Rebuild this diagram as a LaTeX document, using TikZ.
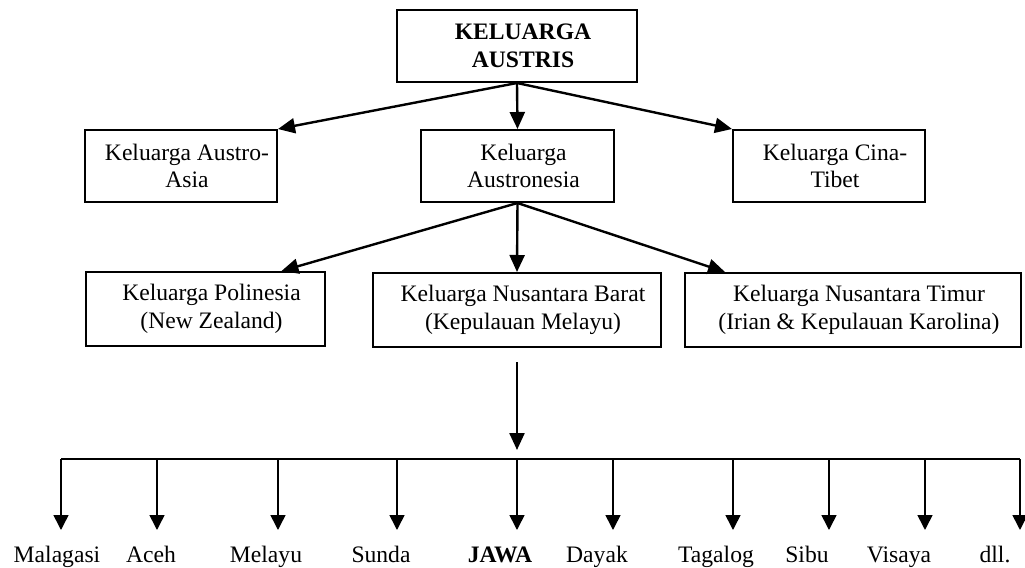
\documentclass[tikz,border=0pt]{standalone}
\usepackage{fontspec}
\setmainfont{Liberation Serif}
\usetikzlibrary{arrows.meta,calc}
\newcommand\gs{\hspace*{6pt}}

\begin{document}
\begin{tikzpicture}[x=0.5pt,y=-0.5pt,
every node/.style={font=\fontsize{11.8}{13.8}\selectfont},
kotak/.style={draw,line width=1pt,align=center,minimum height=36pt,inner sep=0pt},
panah/.style={line width=1.2pt,-{Triangle[length=8.5pt,width=7.5pt]}},
cabang/.style={line width=0.8pt,-{Triangle[length=7.5pt,width=7.5pt]}}]
\useasboundingbox (0,0) rectangle (1025,568);
\node[kotak,minimum width=120pt] (induk) at (517,46) {\gs\textbf{KELUARGA}\\\gs\textbf{AUSTRIS}};
\node[kotak,minimum width=96pt] (asia) at (181,166) {\gs Keluarga Austro-\\\gs Asia};
\node[kotak,minimum width=96.5pt] (austronesia) at (517.5,166) {\gs Keluarga\\\gs Austronesia};
\node[kotak,minimum width=96pt] (cina) at (829,166) {\gs Keluarga Cina-\\\gs Tibet};
\node[kotak,minimum width=119.5pt,minimum height=37pt] (polinesia) at (205.5,309) {\gs Keluarga Polinesia\\\gs (New Zealand)};
\node[kotak,minimum width=144pt,minimum height=37pt] (barat) at (517,310) {\gs Keluarga Nusantara Barat\\\gs (Kepulauan Melayu)};
\node[kotak,minimum width=168pt,minimum height=37pt] (timur) at (853,310) {\gs Keluarga Nusantara Timur\\\gs (Irian \& Kepulauan Karolina)};
\draw[panah] (induk.south) -- (asia.north east);
\draw[panah] (induk.south) -- (austronesia.north);
\draw[panah] (induk.south) -- (cina.north west);
\draw[panah] (austronesia.south) -- ($(polinesia.north)+(38pt,0)$);
\draw[panah] (austronesia.south) -- (barat.north);
\draw[panah] (austronesia.south) -- ($(timur.north)+(-64pt,0)$);
\foreach \i/\x/\lx/\nama in {1/61/57/Malagasi,2/157/151/Aceh,3/278/266/Melayu,4/397/381/Sunda,5/517/500/\textbf{JAWA},6/613/597/Dayak,7/733/716/Tagalog,8/829/807/Sibu,9/925/899/Visaya,10/1020/995/dll.}{
\coordinate (c\i) at (\x,459);
\coordinate (u\i) at (\x,530);
\node[anchor=base] (b\i) at (\lx,562) {\nama};
\draw[cabang] (c\i) -- (u\i);
}
\draw[line width=1.1pt] (c1) -- (c10);
\draw[panah] ([yshift=-7pt]barat.south) -- ([yshift=4.5pt]c5);
\end{tikzpicture}
\end{document}
